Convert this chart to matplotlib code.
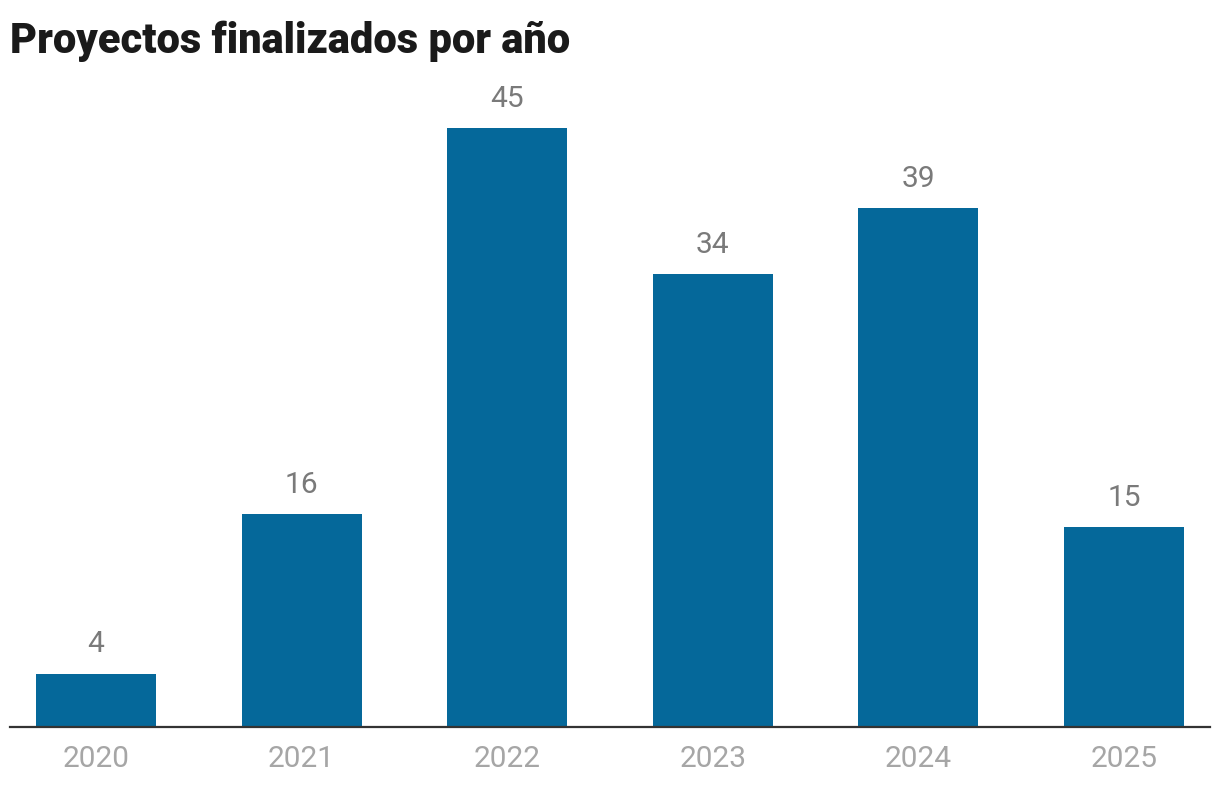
"""
Bar chart: finished projects per year.
"""

import matplotlib
matplotlib.use('Agg')
import matplotlib.pyplot as plt

years    = ['2020', '2021', '2022', '2023', '2024', '2025']
projects = [4, 16, 45, 34, 39, 15]

BAR_COLOR   = '#05689a'
LABEL_COLOR = '#7a7a7a'
TICK_COLOR  = '#a6a6a6'

plt.rcParams['font.family'] = ['Roboto', 'DejaVu Sans']

fig = plt.figure(figsize=(12.2, 7.9), dpi=100)
ax = fig.add_axes([10 / 1220, 1 - 727 / 790, 1200 / 1220, 640 / 790])

x = range(len(years))
bars = ax.bar(x, projects, width=0.584, color=BAR_COLOR, zorder=2)

for rect, val in zip(bars, projects):
    ax.annotate(str(val), (rect.get_x() + rect.get_width() / 2, rect.get_height()),
                xytext=(0, 11), textcoords='offset points',
                ha='center', va='bottom', fontsize=21.5, color=LABEL_COLOR)

ax.set_xlim(-0.418, 5.418)
ax.set_ylim(0, 640 / 13.31)
ax.set_xticks(list(x))
ax.set_xticklabels(years, fontsize=21.5, color=TICK_COLOR)
ax.tick_params(axis='x', length=0, pad=13)
ax.set_yticks([])

for side in ('top', 'right', 'left'):
    ax.spines[side].set_visible(False)
ax.spines['bottom'].set_color('#333333')
ax.spines['bottom'].set_linewidth(1.6)

fig.text(10 / 1220, 1 - 41 / 790, 'Proyectos finalizados por año',
         fontsize=30, fontweight='heavy', color='#1a1a1a', va='center', ha='left')

fig.savefig('out.png', dpi=100)
